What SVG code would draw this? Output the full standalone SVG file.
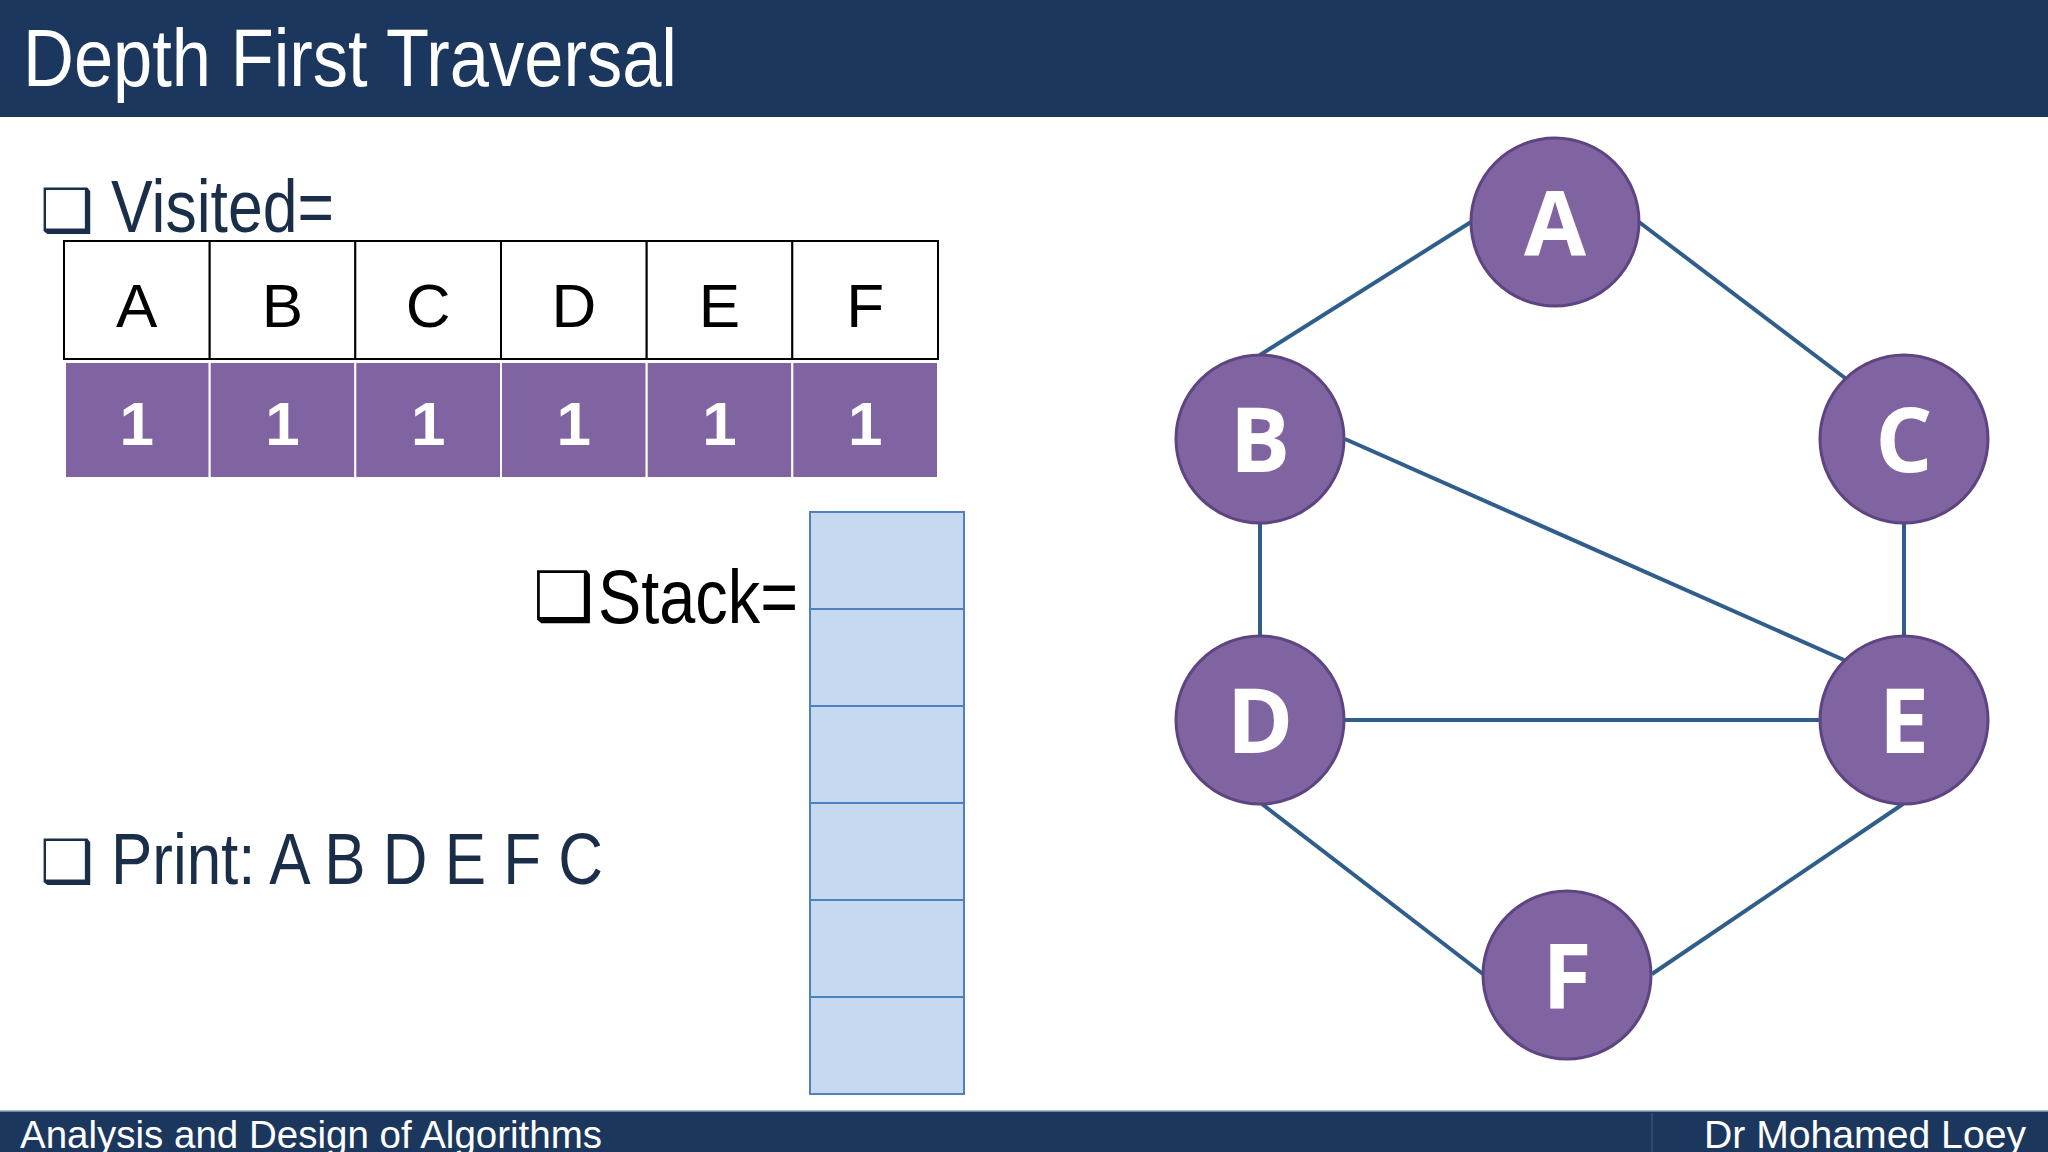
<svg xmlns="http://www.w3.org/2000/svg" width="2048" height="1152" viewBox="0 0 2048 1152">
  <style>
    .bar { fill: #1c375e; }
    .navy { fill: #1a2e4a; font-family: "Liberation Sans", Arial, sans-serif; }
    .box { font-family: "DejaVu Sans", sans-serif; }
    .cellw { fill: #ffffff; stroke: #000000; stroke-width: 2; }
    .cellp { fill: #8064a2; stroke: #ffffff; stroke-width: 2; }
    .hdr { font-family: "Liberation Sans", Arial, sans-serif; font-size: 62px; fill: #000000; text-anchor: middle; }
    .one { font-family: "Liberation Sans", Arial, sans-serif; font-size: 62px; font-weight: bold; fill: #ffffff; text-anchor: middle; }
    .stk { fill: #c6d9f1; stroke: #4f81bd; stroke-width: 2; }
    .node circle { fill: #8064a2; stroke: #5c4580; stroke-width: 3; }
    .node text { font-family: "Open Sans", "Liberation Sans", sans-serif; font-size: 90px; font-weight: bold; fill: #ffffff; text-anchor: middle; }
    .edge { stroke: #2f5e8c; stroke-width: 4; fill: none; }
    .foot { fill: #ffffff; font-family: "Liberation Sans", Arial, sans-serif; font-size: 38px; }
  </style>

  <rect x="0" y="0" width="2048" height="1152" fill="#ffffff"/>

  <!-- header -->
  <g id="header">
    <rect class="bar" x="0" y="0" width="2048" height="117"/>
    <text x="23" y="86" font-family="Liberation Sans, Arial, sans-serif" font-size="82" fill="#ffffff" textLength="654" lengthAdjust="spacingAndGlyphs">Depth First Traversal</text>
  </g>

  <!-- visited -->
  <g id="visited-label">
    <text class="box" x="40" y="231" font-size="60" fill="#1a2e4a">❑</text>
    <text class="navy" x="111" y="232" font-size="74" textLength="223" lengthAdjust="spacingAndGlyphs">Visited=</text>
  </g>

  <g id="visited-table">
    <rect class="cellw" x="64" y="241" width="145.7" height="118"/>
    <rect class="cellw" x="209.7" y="241" width="145.7" height="118"/>
    <rect class="cellw" x="355.3" y="241" width="145.7" height="118"/>
    <rect class="cellw" x="501" y="241" width="145.7" height="118"/>
    <rect class="cellw" x="646.7" y="241" width="145.7" height="118"/>
    <rect class="cellw" x="792.3" y="241" width="145.7" height="118"/>
    <text class="hdr" x="136.8" y="327">A</text>
    <text class="hdr" x="282.5" y="327">B</text>
    <text class="hdr" x="428.2" y="327">C</text>
    <text class="hdr" x="573.8" y="327">D</text>
    <text class="hdr" x="719.5" y="327">E</text>
    <text class="hdr" x="865.2" y="327">F</text>

    <rect class="cellp" x="65" y="362" width="144.7" height="116"/>
    <rect class="cellp" x="209.7" y="362" width="145.7" height="116"/>
    <rect class="cellp" x="355.3" y="362" width="145.7" height="116"/>
    <rect class="cellp" x="501" y="362" width="145.7" height="116"/>
    <rect class="cellp" x="646.7" y="362" width="145.7" height="116"/>
    <rect class="cellp" x="792.3" y="362" width="145.7" height="116"/>
    <text class="one" x="136.8" y="445">1</text>
    <text class="one" x="282.5" y="445">1</text>
    <text class="one" x="428.2" y="445">1</text>
    <text class="one" x="573.8" y="445">1</text>
    <text class="one" x="719.5" y="445">1</text>
    <text class="one" x="865.2" y="445">1</text>
  </g>

  <!-- stack -->
  <g id="stack-label">
    <text class="box" x="533" y="620" font-size="68" fill="#000000">❑</text>
    <text x="598" y="623" font-family="Liberation Sans, Arial, sans-serif" font-size="76" fill="#000000" textLength="200" lengthAdjust="spacingAndGlyphs">Stack=</text>
  </g>

  <g id="stack">
    <rect class="stk" x="810" y="512" width="154" height="97"/>
    <rect class="stk" x="810" y="609" width="154" height="97"/>
    <rect class="stk" x="810" y="706" width="154" height="97"/>
    <rect class="stk" x="810" y="803" width="154" height="97"/>
    <rect class="stk" x="810" y="900" width="154" height="97"/>
    <rect class="stk" x="810" y="997" width="154" height="97"/>
  </g>

  <!-- print -->
  <g id="print-label">
    <text class="box" x="40" y="882" font-size="60" fill="#1a2e4a">❑</text>
    <text class="navy" x="111" y="884" font-size="72" textLength="492" lengthAdjust="spacingAndGlyphs">Print: A B D E F C</text>
  </g>

  <!-- connectors -->
  <g id="connectors">
    <line class="edge" x1="1471" y1="222" x2="1260" y2="355"/>
    <line class="edge" x1="1639" y1="222" x2="1845" y2="378"/>
    <line class="edge" x1="1345" y1="439" x2="1844" y2="660"/>
    <line class="edge" x1="1260" y1="523" x2="1260" y2="636"/>
    <line class="edge" x1="1904" y1="523" x2="1904" y2="636"/>
    <line class="edge" x1="1345" y1="720" x2="1820" y2="720"/>
    <line class="edge" x1="1262" y1="804" x2="1483" y2="974"/>
    <line class="edge" x1="1903" y1="804" x2="1652" y2="974"/>
  </g>

  <!-- nodes -->
  <g id="node-A" class="node"><circle cx="1555" cy="222" r="84"/><text x="1555" y="255">A</text></g>
  <g id="node-B" class="node"><circle cx="1260" cy="439" r="84"/><text x="1260" y="472">B</text></g>
  <g id="node-C" class="node"><circle cx="1904" cy="439" r="84"/><text x="1904" y="472">C</text></g>
  <g id="node-D" class="node"><circle cx="1260" cy="720" r="84"/><text x="1260" y="753">D</text></g>
  <g id="node-E" class="node"><circle cx="1904" cy="720" r="84"/><text x="1904" y="753">E</text></g>
  <g id="node-F" class="node"><circle cx="1567" cy="975" r="84"/><text x="1567" y="1008">F</text></g>

  <!-- footer -->
  <g id="footer">
    <rect class="bar" x="0" y="1111" width="2048" height="41"/>
    <line x1="0" y1="1111" x2="2048" y2="1111" stroke="#8fa3bd" stroke-width="1.5"/>
    <line x1="1652" y1="1113" x2="1652" y2="1152" stroke="#2c4a72" stroke-width="2"/>
    <text class="foot" x="20" y="1148" textLength="582" lengthAdjust="spacingAndGlyphs">Analysis and Design of Algorithms</text>
    <text class="foot" x="1704" y="1148" textLength="322" lengthAdjust="spacingAndGlyphs">Dr Mohamed Loey</text>
  </g>
</svg>
